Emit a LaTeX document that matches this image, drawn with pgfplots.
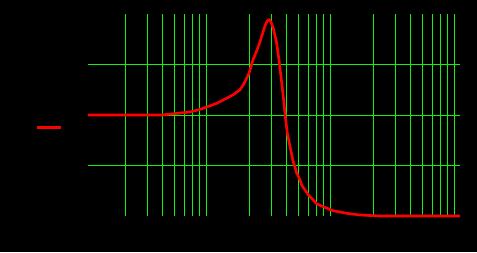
\documentclass[border=0pt]{standalone}
\usepackage{pgfplots}
\pgfplotsset{compat=1.18}
\definecolor{gridgreen}{RGB}{20,240,20}
\definecolor{curvered}{RGB}{255,0,0}
\begin{document}
\begin{tikzpicture}[x=1bp,y=1bp]
\fill[black] (0,0) rectangle (477,252);
\path[use as bounding box] (0,0) rectangle (477,252);
\begin{axis}[
  at={(88bp,36bp)}, anchor=south west,
  scale only axis, width=372bp, height=202bp,
  xmode=log, xmin=1, xmax=1000, ymin=0, ymax=4,
  xtick={1,10,100,1000}, xticklabels={},
  minor xtick={2,3,4,5,6,7,8,9,20,30,40,50,60,70,80,90,200,300,400,500,600,700,800,900},
  ytick={1,2,3},
  yticklabels={},
  major tick length=0pt, minor tick length=0pt,
  xmajorgrids=false, xminorgrids=true, ymajorgrids=true,
  minor grid style={gridgreen, line width=1bp},
  major grid style={gridgreen, line width=1bp},
  axis line style={draw=none},
  clip=false,
  legend style={at={(-0.065,0.44)}, anchor=east, draw=none, fill=black,
    inner sep=0pt, nodes={inner sep=0pt}},
  legend image code/.code={\draw[#1, line width=3bp] (0bp,0bp) -- (24bp,0bp);},
]
\addplot[curvered, line width=2.6bp, line join=round] coordinates {
(1,2.0) (2,2.0) (3.95,2.0) (6.65,2.06) (8.0,2.11) (10.9,2.23) (14.8,2.40)
(16.8,2.50) (17.8,2.59) (19.05,2.73) (19.9,2.83) (21.4,3.09) (23.0,3.28) (24.4,3.45)
(25.3,3.58) (26.8,3.77) (27.8,3.86) (29.0,3.89) (29.9,3.84) (31.2,3.72) (33.2,3.43) (34.7,3.09) (36.0,2.76)
(37.6,2.36) (38.8,2.02) (40.5,1.64) (42.6,1.37) (44.8,1.11) (48.2,0.85)
(51.3,0.71) (52.9,0.61) (59.8,0.42) (69.9,0.24) (81.5,0.17) (94.6,0.105)
(122,0.053) (156,0.02) (226,0.0) (1000,0.0)
};
\addlegendentry{}
\end{axis}
\end{tikzpicture}
\end{document}
